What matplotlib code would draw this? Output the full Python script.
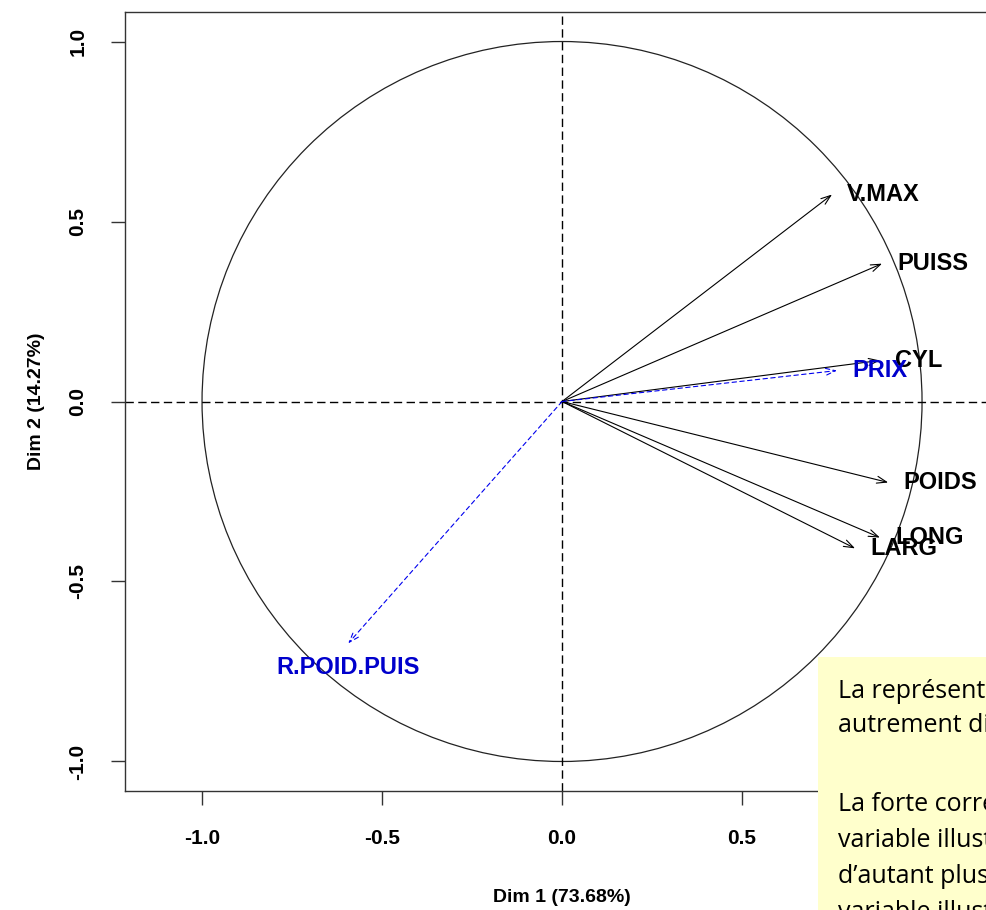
"""Correlation circle (PCA variables factor map), cropped on the right."""

import matplotlib

matplotlib.use("Agg")
import matplotlib.pyplot as plt
from matplotlib.patches import Circle, Rectangle

# active variables (black, solid arrows)
active_names = ["V.MAX", "PUISS", "CYL", "POIDS", "LONG", "LARG"]
active_dim1 = [0.750, 0.889, 0.883, 0.906, 0.883, 0.814]
active_dim2 = [0.575, 0.383, 0.114, -0.225, -0.378, -0.408]

# supplementary variables (blue, dashed arrows)
sup_names = ["PRIX", "R.POID.PUIS"]
sup_dim1 = [0.764, -0.594]
sup_dim2 = [0.086, -0.672]
sup_side = ["right", "below"]

xticks = [-1.0, -0.5, 0.0, 0.5, 1.0]
yticks = [-1.0, -0.5, 0.0, 0.5, 1.0]
xlabel = "Dim 1 (73.68%)"
ylabel = "Dim 2 (14.27%)"

note_1 = (
    "La représentation des variables\n"
    "autrement dit le cercle des corrélations"
)
note_2 = (
    "La forte corrélation de PRIX avec l’axe 1 :\n"
    "variable illustrative, sa flèche est\n"
    "d’autant plus longue que la\n"
    "variable illustrative est liée aux axes."
)

R_FONT = "Liberation Sans"
W, H = 986, 910


def add_label(ax, name, x, y, side, color):
    if side == "below":
        ax.annotate(name, (x, y), xytext=(0, -9), textcoords="offset points",
                    ha="center", va="top", color=color, fontsize=17,
                    fontweight="bold", family=R_FONT)
    else:
        ax.annotate(name, (x, y), xytext=(11, 0), textcoords="offset points",
                    ha="left", va="center", color=color, fontsize=17,
                    fontweight="bold", family=R_FONT)


def main() -> None:
    fig = plt.figure(figsize=(W / 100, H / 100), dpi=100)
    # axes box runs past the right edge of the picture (cropped screenshot)
    ax = fig.add_axes([125 / W, (H - 791) / H, 2.428 * 360 / W, 779 / H])
    ax.set_xlim(-1.214, 1.214)
    ax.set_ylim(-1.082, 1.082)

    ax.add_patch(Circle((0, 0), 1.0, fill=False, lw=0.9, color="#222222"))
    ax.axhline(0, color="black", lw=1, dashes=(6, 3.2))
    ax.axvline(0, color="black", lw=1, dashes=(6, 3.2))

    for name, x, y in zip(active_names, active_dim1, active_dim2):
        ax.annotate("", xy=(x, y), xytext=(0, 0),
                    arrowprops=dict(arrowstyle="->,head_length=0.7,head_width=0.25",
                                    color="black", lw=0.8, shrinkA=0, shrinkB=0))
        add_label(ax, name, x, y, "right", "black")

    for name, x, y, side in zip(sup_names, sup_dim1, sup_dim2, sup_side):
        ax.annotate("", xy=(x, y), xytext=(0, 0),
                    arrowprops=dict(arrowstyle="->,head_length=0.7,head_width=0.25",
                                    color="#0000EE", lw=0.8, linestyle=(0, (4, 3)),
                                    shrinkA=0, shrinkB=0))
        add_label(ax, name, x, y, side, "#0000CC")

    ax.set_xticks(xticks)
    ax.set_yticks(yticks)
    ax.set_xticklabels([f"{t:.1f}" for t in xticks], fontsize=15,
                       fontweight="bold", family=R_FONT)
    ax.set_yticklabels([f"{t:.1f}" for t in yticks], fontsize=15,
                       fontweight="bold", family=R_FONT, rotation=90, va="center")
    ax.tick_params(direction="out", length=10, width=1, pad=17, color="#333333")
    ax.set_xlabel(xlabel, fontsize=14, fontweight="bold", family=R_FONT, labelpad=30)
    ax.set_ylabel(ylabel, fontsize=14, fontweight="bold", family=R_FONT, labelpad=17)
    for s in ax.spines.values():
        s.set_color("#333333")
        s.set_linewidth(1)

    # yellow comment box overlapping the bottom right corner
    box = Rectangle((818 / W, 0), 0.3, (H - 657) / H, transform=fig.transFigure,
                    facecolor="#FFFFCC", edgecolor="none", zorder=5)
    fig.patches.append(box)
    fig.text(838 / W, (H - 679) / H, note_1, ha="left", va="top", fontsize=18,
             family="Open Sans", linespacing=1.5, color="black", zorder=6)
    fig.text(838 / W, (H - 792) / H, note_2, ha="left", va="top", fontsize=18,
             family="Open Sans", linespacing=1.58, color="black", zorder=6)

    fig.savefig("out.png", dpi=100)


if __name__ == "__main__":
    main()
